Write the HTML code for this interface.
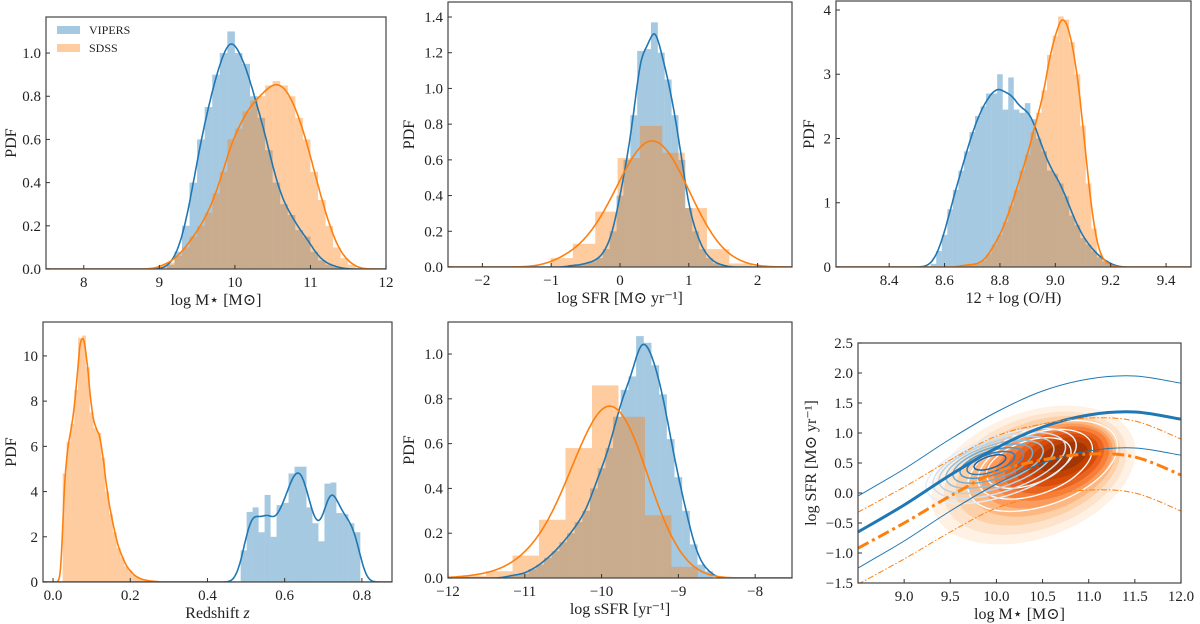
<!DOCTYPE html>
<html><head><meta charset="utf-8">
<style>
html,body{margin:0;padding:0;background:#fff;}
svg{display:block;font-family:"Liberation Serif","DejaVu Serif",serif;}
</style></head>
<body>
<svg id="fig" width="1200" height="624" viewBox="0 0 1200 624" xmlns="http://www.w3.org/2000/svg"></svg>
<script>
// ---------- Panel 1: stellar mass ----------
const p1VipersStart = 9.1, p1VipersWidth = 0.1;
const p1VipersVals = [0.02,0.08,0.2,0.4,0.6,0.75,0.9,1.0,1.1,1.0,0.95,0.8,0.7,0.55,0.4,0.3,0.25,0.18,0.15,0.08,0.04,0.02,0.01];
const p1SdssStart = 9.0, p1SdssWidth = 0.1;
const p1SdssVals = [0.02,0.03,0.06,0.1,0.15,0.2,0.26,0.35,0.45,0.6,0.65,0.73,0.78,0.8,0.85,0.87,0.85,0.8,0.7,0.6,0.45,0.32,0.2,0.1,0.05,0.02];
const p1XTicks = [8,9,10,11,12];
const p1YTicks = [0,0.2,0.4,0.6,0.8,1.0];
// ---------- Panel 2: SFR ----------
const p2VipersStart = -0.75, p2VipersWidth = 0.1;
const p2VipersVals = [0.01,0.01,0.02,0.03,0.05,0.1,0.2,0.4,0.6,0.85,1.21,1.22,1.37,1.2,1.05,0.85,0.6,0.33,0.2,0.1,0.05,0.02,0.01];
const p2SdssStart = -1.01, p2SdssWidth = 0.325;
const p2SdssVals = [0.05,0.13,0.31,0.61,0.79,0.64,0.33,0.1,0.02];
const p2XTicks = [-2,-1,0,1,2];
const p2YTicks = [0,0.2,0.4,0.6,0.8,1.0,1.2,1.4];
// ---------- Panel 3: metallicity ----------
const p3VipersStart = 8.55, p3VipersWidth = 0.02;
const p3VipersVals = [0.05,0.25,0.5,0.9,1.2,1.5,1.8,2.1,2.35,2.5,2.7,2.7,3.0,2.45,2.95,2.45,2.4,2.55,2.3,2.0,1.8,1.5,1.45,1.3,1.1,0.8,0.65,0.45,0.35,0.25,0.15,0.1,0.05];
const p3SdssStart = 8.65, p3SdssWidth = 0.02;
const p3SdssVals = [0.02,0.03,0.04,0.05,0.1,0.2,0.35,0.5,0.7,0.95,1.2,1.5,1.75,2.1,2.4,2.75,3.3,3.6,3.9,3.85,3.5,3.0,2.2,1.3,0.6,0.2,0.08,0.03];
const p3XTicks = [8.4,8.6,8.8,9.0,9.2,9.4];
const p3YTicks = [0,1,2,3,4];
// ---------- Panel 4: redshift ----------
const p4SdssStart = 0.025, p4SdssWidth = 0.01;
const p4SdssVals = [4.8,6.2,7.0,8.5,10.8,10.9,9.5,7.5,6.8,6.6,5.5,4.0,3.0,2.2,1.5,1.1,0.7,0.5,0.3,0.2,0.12,0.08,0.05,0.03,0.02];
const p4VipersStart = 0.486, p4VipersWidth = 0.0155;
const p4VipersVals = [1.4,3.1,3.3,2.2,3.85,2.0,3.4,3.5,4.8,5.1,5.1,3.3,2.6,1.8,4.35,4.4,3.05,3.0,2.6,2.2];
const p4XTicks = [0,0.2,0.4,0.6,0.8];
const p4YTicks = [0,2,4,6,8,10];
// ---------- Panel 5: sSFR ----------
const p5VipersStart = -11.25, p5VipersWidth = 0.1;
const p5VipersVals = [0.01,0.015,0.02,0.04,0.06,0.09,0.12,0.16,0.2,0.25,0.3,0.4,0.49,0.58,0.72,0.84,0.9,1.08,1.05,0.95,0.82,0.62,0.45,0.3,0.15,0.06,0.03];
const p5SdssStart = -11.85, p5SdssWidth = 0.345;
const p5SdssVals = [0.01,0.03,0.1,0.26,0.58,0.86,0.72,0.28,0.05];
const p5XTicks = [-12,-11,-10,-9,-8];
const p5YTicks = [0,0.2,0.4,0.6,0.8,1.0];
// ---------- Panel 6: SFR-M* plane ----------
const p6LineX = [8.5,9.0,9.5,10.0,10.5,11.0,11.5,12.0];
const p6VipersMS = [-0.65,-0.2,0.3,0.75,1.1,1.3,1.35,1.23];
const p6VipersUp = [-0.05,0.4,0.9,1.35,1.7,1.9,1.95,1.83];
const p6VipersLo = [-1.25,-0.8,-0.3,0.15,0.5,0.7,0.75,0.63];
const p6SdssMS = [-0.92,-0.5,-0.05,0.35,0.55,0.65,0.6,0.3];
const p6SdssUp = [-0.32,0.1,0.55,0.95,1.15,1.25,1.2,0.9];
const p6SdssLo = [-1.52,-1.1,-0.65,-0.25,-0.05,0.05,0.0,-0.3];
const p6DensCx = [10.4,10.42,10.45,10.5,10.55,10.6,10.63,10.66,10.7,10.72];
const p6DensCy = [0.3,0.33,0.37,0.41,0.45,0.49,0.52,0.55,0.58,0.6];
const p6DensRx = [1.15,1.03,0.93,0.83,0.74,0.65,0.56,0.47,0.38,0.28];
const p6DensRy = [1.05,0.93,0.82,0.72,0.63,0.55,0.47,0.39,0.31,0.22];
const p6BlueCx = [10.05,10.03,10.0,9.98,9.96,9.95,9.94,9.93];
const p6BlueCy = [0.45,0.46,0.47,0.48,0.49,0.5,0.5,0.51];
const p6BlueRx = [0.85,0.75,0.65,0.55,0.45,0.36,0.27,0.18];
const p6BlueRy = [0.5,0.44,0.38,0.32,0.26,0.2,0.15,0.1];
const p6WhiteCx = [10.5,10.42,10.35];
const p6WhiteCy = [0.45,0.48,0.5];
const p6WhiteRx = [0.85,0.65,0.48];
const p6WhiteRy = [0.65,0.5,0.36];
const p6XTicks = [9.0,9.5,10.0,10.5,11.0,11.5,12.0];
const p6YTicks = [-1.5,-1.0,-0.5,0.0,0.5,1.0,1.5,2.0,2.5];

const NS = "http://www.w3.org/2000/svg";
const svg = document.getElementById('fig');
const BLUE = "#1f77b4", ORANGE = "#ff7f0e";
function mk(tag, attrs, parent){
  const e = document.createElementNS(NS, tag);
  for (const k in attrs) e.setAttribute(k, attrs[k]);
  (parent||svg).appendChild(e); return e;
}
function fmt(v, d){ const s = v.toFixed(d); return s.replace('-', '\u2212'); }

function makePanel(id, c){
  const g = mk('g', {});
  
  
  const p = Object.assign({}, c);
  p.g = g;
  p.sx = v => c.x0 + (v - c.xmin) / (c.xmax - c.xmin) * (c.x1 - c.x0);
  p.sy = v => c.y1 - (v - c.ymin) / (c.ymax - c.ymin) * (c.y1 - c.y0);
  const cp = mk('clipPath', {id: 'clip-' + id}, g);
  mk('rect', {x: c.x0, y: c.y0, width: c.x1 - c.x0, height: c.y1 - c.y0}, cp);
  p.plot = mk('g', {'clip-path': 'url(#clip-' + id + ')'}, g);
  
  
  return p;
}
function axes(p, xt, xd, yt, yd, xlabel, ylabel, ylabelX){
  const fr = mk('rect', {x: p.x0, y: p.y0, width: p.x1 - p.x0, height: p.y1 - p.y0, fill: 'none', stroke: '#444', 'stroke-width': 1.2}, p.g);
  
  
  xt.forEach(v => {
    const x = p.sx(v);
    mk('line', {x1: x, x2: x, y1: p.y1, y2: p.y1 - 4, stroke: '#333', 'stroke-width': 1}, p.g);
    const t = mk('text', {x: x, y: p.y1 + 18, 'text-anchor': 'middle', 'font-size': 15, fill: '#222'}, p.g);
    t.textContent = fmt(v, xd);
    
    
  });
  yt.forEach(v => {
    const y = p.sy(v);
    mk('line', {x1: p.x0, x2: p.x0 + 4, y1: y, y2: y, stroke: '#333', 'stroke-width': 1}, p.g);
    const t = mk('text', {x: p.x0 - 5, y: y + 5, 'text-anchor': 'end', 'font-size': 15, fill: '#222'}, p.g);
    t.textContent = fmt(v, yd);
    
    
  });
  const xl = mk('text', {x: (p.x0 + p.x1) / 2, y: p.y1 + 36, 'text-anchor': 'middle', 'font-size': 16, fill: '#222'}, p.g);
  xl.innerHTML = xlabel;
  
  
  const cy = (p.y0 + p.y1) / 2;
  const yl = mk('text', {x: ylabelX, y: cy, 'text-anchor': 'middle', 'font-size': 16, fill: '#222', transform: 'rotate(-90 ' + ylabelX + ' ' + cy + ')'}, p.g);
  yl.textContent = ylabel;
  
  
}
function hist(p, start, w, vals, color, name){
  vals.forEach((v, i) => {
    const a = start + i * w;
    const r = mk('rect', {x: p.sx(a), y: p.sy(v), width: p.sx(a + w) - p.sx(a), height: p.sy(0) - p.sy(v), fill: color, 'fill-opacity': 0.4}, p.plot);
    
    
  });
}
function kde(p, start, w, vals, sigma, color, name){
  const n = 400; let d = '';
  for (let k = 0; k <= n; k++){
    const x = p.xmin + (p.xmax - p.xmin) * k / n;
    let y = 0;
    vals.forEach((v, i) => {
      const c = start + (i + 0.5) * w;
      const s = Math.sqrt(sigma * sigma + w * w / 12);
      y += v * w * Math.exp(-0.5 * ((x - c) / s) ** 2) / (s * Math.sqrt(2 * Math.PI));
    });
    d += (k ? 'L' : 'M') + p.sx(x).toFixed(1) + ',' + p.sy(y).toFixed(1);
  }
  const path = mk('path', {d: d, fill: 'none', stroke: color, 'stroke-width': 1.6}, p.plot);
  
  
}
function smoothLine(p, xs, ys, attrs, name){
  const pts = xs.map((x, i) => [p.sx(x), p.sy(ys[i])]);
  let d = 'M' + pts[0][0] + ',' + pts[0][1];
  for (let i = 0; i < pts.length - 1; i++){
    const p0 = pts[Math.max(0, i - 1)], p1 = pts[i], p2 = pts[i + 1], p3 = pts[Math.min(pts.length - 1, i + 2)];
    const c1 = [p1[0] + (p2[0] - p0[0]) / 6, p1[1] + (p2[1] - p0[1]) / 6];
    const c2 = [p2[0] - (p3[0] - p1[0]) / 6, p2[1] - (p3[1] - p1[1]) / 6];
    d += 'C' + c1.join(',') + ' ' + c2.join(',') + ' ' + p2.join(',');
  }
  const path = mk('path', Object.assign({d: d, fill: 'none'}, attrs), p.plot);
  
  
}
function ellipses(p, cx, cy, rx, ry, rot, styleFn, name){
  cx.forEach((c, i) => {
    const px = p.sx(c), py = p.sy(cy[i]);
    const e = mk('ellipse', Object.assign({cx: px, cy: py, rx: p.sx(c + rx[i]) - px, ry: py - p.sy(cy[i] + ry[i]),
      transform: 'rotate(' + rot + ' ' + px + ' ' + py + ')'}, styleFn(i, cx.length)), p.plot);
    
    
  });
}

// Panel 1
const P1 = makePanel('panel-stellar-mass', {x0:46,x1:386,y0:17,y1:269,xmin:7.5,xmax:12,ymin:0,ymax:1.167});
hist(P1, p1VipersStart, p1VipersWidth, p1VipersVals, BLUE, 'vipers-mass');
hist(P1, p1SdssStart, p1SdssWidth, p1SdssVals, ORANGE, 'sdss-mass');
kde(P1, p1VipersStart, p1VipersWidth, p1VipersVals, 0.08, BLUE, 'vipers-mass');
kde(P1, p1SdssStart, p1SdssWidth, p1SdssVals, 0.09, ORANGE, 'sdss-mass');
axes(P1, p1XTicks, 0, p1YTicks, 1, 'log M\u22C6 [M\u2299]', 'PDF', 16);
// legend
const lg = mk('g', {});


[['VIPERS', BLUE, 30], ['SDSS', ORANGE, 48]].forEach(([lab, col, y]) => {
  const r = mk('rect', {x: 57, y: y - 4, width: 23, height: 8, fill: col, 'fill-opacity': 0.4}, lg);
  
  
  const t = mk('text', {x: 89, y: y + 4, 'font-size': 12, fill: '#222'}, lg);
  t.textContent = lab;
  
  
});

// Panel 2
const P2 = makePanel('panel-sfr', {x0:448,x1:792,y0:2,y1:267,xmin:-2.5,xmax:2.5,ymin:0,ymax:1.484});
hist(P2, p2VipersStart, p2VipersWidth, p2VipersVals, BLUE, 'vipers-sfr');
hist(P2, p2SdssStart, p2SdssWidth, p2SdssVals, ORANGE, 'sdss-sfr');
kde(P2, p2VipersStart, p2VipersWidth, p2VipersVals, 0.06, BLUE, 'vipers-sfr');
kde(P2, p2SdssStart, p2SdssWidth, p2SdssVals, 0.22, ORANGE, 'sdss-sfr');
axes(P2, p2XTicks, 0, p2YTicks, 1, 'log SFR [M\u2299 yr\u207B\u00B9]', 'PDF', 414);

// Panel 3
const P3 = makePanel('panel-metallicity', {x0:836,x1:1191,y0:1,y1:267,xmin:8.208,xmax:9.49,ymin:0,ymax:4.14});
hist(P3, p3VipersStart, p3VipersWidth, p3VipersVals, BLUE, 'vipers-oh');
hist(P3, p3SdssStart, p3SdssWidth, p3SdssVals, ORANGE, 'sdss-oh');
kde(P3, p3VipersStart, p3VipersWidth, p3VipersVals, 0.022, BLUE, 'vipers-oh');
kde(P3, p3SdssStart, p3SdssWidth, p3SdssVals, 0.012, ORANGE, 'sdss-oh');
axes(P3, p3XTicks, 1, p3YTicks, 0, '12 + log (O/H)', 'PDF', 814);

// Panel 4
const P4 = makePanel('panel-redshift', {x0:43,x1:392,y0:322,y1:582,xmin:-0.026,xmax:0.878,ymin:0,ymax:11.5});
hist(P4, p4SdssStart, p4SdssWidth, p4SdssVals, ORANGE, 'sdss-z');
hist(P4, p4VipersStart, p4VipersWidth, p4VipersVals, BLUE, 'vipers-z');
kde(P4, p4SdssStart, p4SdssWidth, p4SdssVals, 0.005, ORANGE, 'sdss-z');
kde(P4, p4VipersStart, p4VipersWidth, p4VipersVals, 0.015, BLUE, 'vipers-z');
axes(P4, p4XTicks, 1, p4YTicks, 0, 'Redshift <tspan font-style="italic">z</tspan>', 'PDF', 16);

// Panel 5
const P5 = makePanel('panel-ssfr', {x0:448,x1:792,y0:322,y1:578,xmin:-12,xmax:-7.52,ymin:0,ymax:1.143});
hist(P5, p5VipersStart, p5VipersWidth, p5VipersVals, BLUE, 'vipers-ssfr');
hist(P5, p5SdssStart, p5SdssWidth, p5SdssVals, ORANGE, 'sdss-ssfr');
kde(P5, p5VipersStart, p5VipersWidth, p5VipersVals, 0.07, BLUE, 'vipers-ssfr');
kde(P5, p5SdssStart, p5SdssWidth, p5SdssVals, 0.22, ORANGE, 'sdss-ssfr');
axes(P5, p5XTicks, 0, p5YTicks, 1, 'log sSFR [yr\u207B\u00B9]', 'PDF', 414);

// Panel 6
const P6 = makePanel('panel-main-sequence', {x0:858,x1:1181,y0:343,y1:583,xmin:8.5,xmax:12,ymin:-1.5,ymax:2.5});
const oranges = ['#fff1e4','#fee3cc','#fdd0a8','#fdb882','#fd9b5c','#f77f39','#ea6420','#d94d0b','#c24203','#a33603'];
ellipses(P6, p6DensCx, p6DensCy, p6DensRx, p6DensRy, -20, (i) => ({fill: oranges[i]}), 'sdss-density-level');
ellipses(P6, p6WhiteCx, p6WhiteCy, p6WhiteRx, p6WhiteRy, -20, () => ({fill: 'none', stroke: '#fff', 'stroke-width': 1.3}), 'sdss-contour');
const blues = ['#e3eef9','#cfe1f2','#b5d4e9','#93c3df','#6daed5','#4b97c9','#2f7ebc','#1764ab'];
ellipses(P6, p6BlueCx, p6BlueCy, p6BlueRx, p6BlueRy, -18, (i) => ({fill: 'none', stroke: blues[i], 'stroke-width': 1.5}), 'vipers-contour');
smoothLine(P6, p6LineX, p6VipersUp, {stroke: BLUE, 'stroke-width': 1}, 'vipers-ms-upper');
smoothLine(P6, p6LineX, p6VipersLo, {stroke: BLUE, 'stroke-width': 1}, 'vipers-ms-lower');
smoothLine(P6, p6LineX, p6VipersMS, {stroke: BLUE, 'stroke-width': 3}, 'vipers-main-sequence');
smoothLine(P6, p6LineX, p6SdssUp, {stroke: ORANGE, 'stroke-width': 1, 'stroke-dasharray': '6 2 1.5 2'}, 'sdss-ms-upper');
smoothLine(P6, p6LineX, p6SdssLo, {stroke: ORANGE, 'stroke-width': 1, 'stroke-dasharray': '6 2 1.5 2'}, 'sdss-ms-lower');
smoothLine(P6, p6LineX, p6SdssMS, {stroke: ORANGE, 'stroke-width': 3, 'stroke-dasharray': '12 4 3 4'}, 'sdss-main-sequence');
axes(P6, p6XTicks, 1, p6YTicks, 1, 'log M\u22C6 [M\u2299]', 'log SFR [M\u2299 yr\u207B\u00B9]', 816);
</script>
</body></html>
